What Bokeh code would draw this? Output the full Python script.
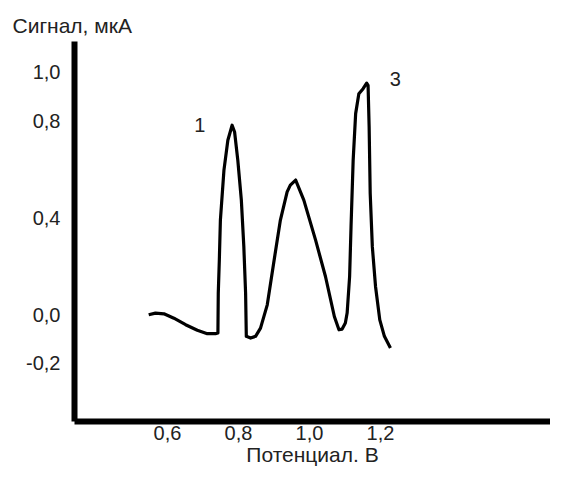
from bokeh.plotting import figure
from bokeh.models import Range1d, FixedTicker, Label
from bokeh.embed import file_html
from bokeh.resources import INLINE

# Data
potential = [0.547, 0.566, 0.590, 0.618, 0.651, 0.684, 0.712, 0.735, 0.742, 0.743, 0.746,
             0.749, 0.759, 0.770, 0.782, 0.789, 0.798, 0.808, 0.815, 0.820, 0.822, 0.834,
             0.848, 0.862, 0.881, 0.899, 0.918, 0.937, 0.946, 0.961, 0.984, 1.017, 1.045,
             1.070, 1.083, 1.092, 1.101, 1.106, 1.113, 1.117, 1.123, 1.130, 1.139, 1.151,
             1.161, 1.165, 1.168, 1.171, 1.177, 1.186, 1.198, 1.211, 1.228]
signal = [0.000, 0.007, 0.004, -0.014, -0.041, -0.064, -0.078, -0.078, -0.075, 0.089, 0.226,
          0.391, 0.597, 0.720, 0.782, 0.754, 0.638, 0.473, 0.281, 0.089, -0.089, -0.096,
          -0.089, -0.055, 0.041, 0.213, 0.391, 0.507, 0.535, 0.556, 0.473, 0.309, 0.158,
          -0.007, -0.062, -0.059, -0.034, 0.007, 0.158, 0.363, 0.638, 0.830, 0.912, 0.933,
          0.956, 0.947, 0.775, 0.501, 0.281, 0.117, -0.021, -0.089, -0.137]

x_ticks = [0.6, 0.8, 1.0, 1.2]
x_tick_labels = ["0,6", "0,8", "1,0", "1,2"]
y_ticks = [-0.2, 0.0, 0.4, 0.8, 1.0]
y_tick_labels = ["-0,2", "0,0", "0,4", "0,8", "1,0"]

peak_labels = ["1", "3"]
peak_x = [0.691, 1.242]
peak_y = [0.782, 0.974]

y_title = "Сигнал, мкА"
x_title = "Потенциал. В"

FONT = "Liberation Sans"
FS = "20px"
FS_T = "21px"
TXT = "#222222"

p = figure(width=550, height=468, output_backend="svg", toolbar_location=None,
           x_range=Range1d(0.338, 1.6789), y_range=Range1d(-0.4403, 1.1276),
           min_border_left=74, min_border_right=0, min_border_top=41, min_border_bottom=46)
p.title.text = y_title
p.title.align = "left"
p.title.offset = -62
p.title.text_font = FONT
p.title.text_font_size = FS_T
p.title.text_font_style = "normal"
p.title.text_color = TXT

p.outline_line_color = None
p.xgrid.visible = False
p.ygrid.visible = False
p.background_fill_color = "white"
p.border_fill_color = "white"

for ax in (p.xaxis[0], p.yaxis[0]):
    ax.axis_line_width = 6
    ax.axis_line_color = "black"
    ax.major_tick_line_color = None
    ax.minor_tick_line_color = None
    ax.major_tick_in = 0
    ax.major_tick_out = 0
    ax.minor_tick_in = 0
    ax.minor_tick_out = 0
    ax.major_label_text_font = FONT
    ax.major_label_text_font_size = FS
    ax.major_label_text_color = TXT

p.xaxis[0].ticker = FixedTicker(ticks=x_ticks)
p.xaxis[0].major_label_overrides = {t: l for t, l in zip(x_ticks, x_tick_labels)}
p.xaxis[0].major_label_standoff = 4
p.xaxis[0].axis_label = x_title
p.xaxis[0].axis_label_text_font = FONT
p.xaxis[0].axis_label_text_font_size = FS_T
p.xaxis[0].axis_label_text_font_style = "normal"
p.xaxis[0].axis_label_text_color = TXT
p.xaxis[0].axis_label_standoff = 0

p.yaxis[0].ticker = FixedTicker(ticks=y_ticks)
p.yaxis[0].major_label_overrides = {t: l for t, l in zip(y_ticks, y_tick_labels)}
p.yaxis[0].major_label_standoff = 14

p.line(potential, signal, line_width=3.2, line_color="black", line_join="round")

for t, x, y in zip(peak_labels, peak_x, peak_y):
    p.add_layout(Label(x=x, y=y, text=t, text_font=FONT, text_font_size=FS,
                       text_color=TXT, text_align="center", text_baseline="middle"))

open("out.html", "w").write(file_html(p, INLINE))
